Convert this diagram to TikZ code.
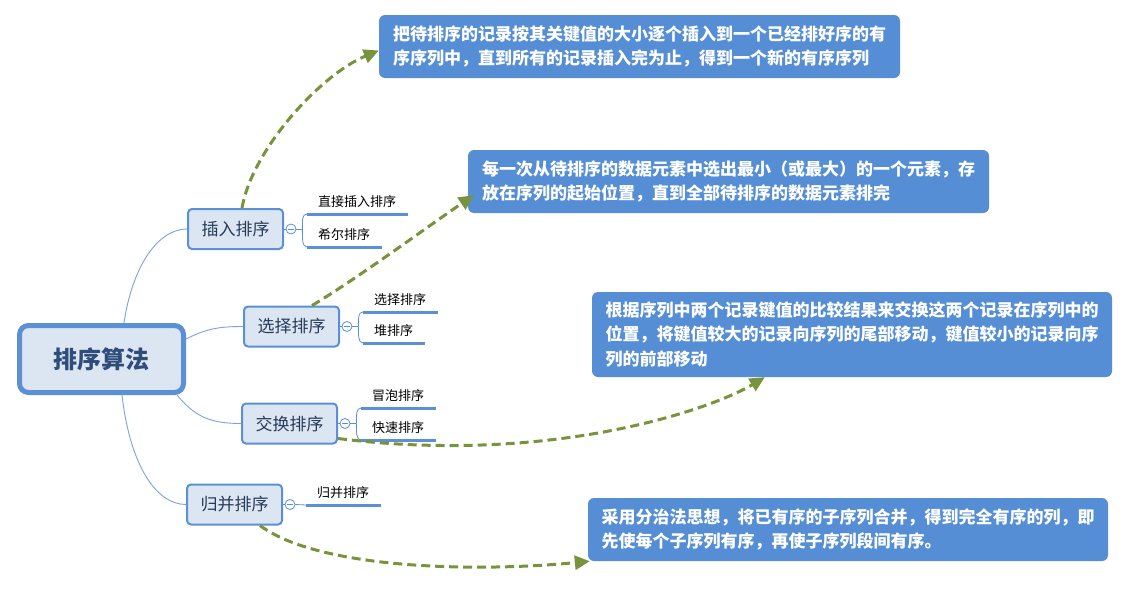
\documentclass[tikz,border=0pt]{standalone}
\usepackage{fontspec}
\setmainfont{Noto Sans CJK SC}
\usetikzlibrary{arrows.meta}
\definecolor{calloutblue}{HTML}{558ED5}
\definecolor{boxfill}{HTML}{DCE6F2}
\definecolor{boxline}{HTML}{5B8FD6}
\definecolor{linkblue}{HTML}{7AA3DC}
\definecolor{arrowgreen}{HTML}{77933C}
\definecolor{roottext}{HTML}{2F4D7A}
\definecolor{branchtext}{HTML}{263A58}
\begin{document}
\begin{tikzpicture}[x=1pt,y=-1pt,
  rootbox/.style={draw=boxline, line width=5pt, fill=boxfill, rounded corners=9pt, minimum width=164pt, minimum height=67pt, inner sep=0pt, text=roottext, font=\bfseries\fontsize{24}{24}\selectfont},
  branchbox/.style={draw=boxline, line width=2pt, fill=boxfill, rounded corners=4pt, minimum width=95pt, minimum height=40pt, inner sep=0pt, text=branchtext, font=\fontsize{17}{17}\selectfont},
  toggle/.style={circle, draw=boxline, line width=0.8pt, fill=white, minimum size=10pt, inner sep=0pt, path picture={\draw[boxline, line width=0.8pt] ([xshift=2pt]path picture bounding box.west) -- ([xshift=-2pt]path picture bounding box.east);}},
  leaf/.style={anchor=south west, inner xsep=11pt, inner ysep=4pt, text height=10pt, text depth=3pt, align=left, text width=#1, font=\fontsize{13}{13}\selectfont},
  uline/.style={draw=boxline, line width=3pt},
  thinlink/.style={draw=linkblue, line width=0.9pt},
  bracket/.style={draw=boxline, line width=0.8pt},
  callout/.style={fill=calloutblue, rounded corners=6pt, text=white, align=left, inner sep=0pt, font=\bfseries\fontsize{17}{24.5}\selectfont},
  hint/.style={draw=arrowgreen, line width=3pt, dash pattern=on 9pt off 5pt, -{Triangle[length=15pt,width=14pt]}},
]
\useasboundingbox (0,0) rectangle (1128,608);

% callouts
\node[callout, minimum width=521pt, minimum height=63pt] (c1) at (639.5,46.5) {把待排序的记录按其关键值的大小逐个插入到一个已经排好序的有\\序序列中，直到所有的记录插入完为止，得到一个新的有序序列};
\node[callout, minimum width=521pt, minimum height=63pt] (c2) at (728.5,181.5) {每一次从待排序的数据元素中选出最小（或最大）的一个元素，存\\放在序列的起始位置，直到全部待排序的数据元素排完};
\node[callout, minimum width=520pt, minimum height=85pt] (c3) at (852,334.5) {根据序列中两个记录键值的比较结果来交换这两个记录在序列中的\\位置，将键值较大的记录向序列的尾部移动，键值较小的记录向序\\列的前部移动};
\node[callout, minimum width=520pt, minimum height=63pt] (c4) at (848,529.5) {采用分治法思想，将已有序的子序列合并，得到完全有序的列，即\\先使每个子序列有序，再使子序列段间有序。};

% root and branches
\node[rootbox] (root) at (101.5,359) {排序算法};
\node[branchbox] (b1) at (235.5,229) {插入排序};
\node[branchbox] (b2) at (291.5,326.5) {选择排序};
\node[branchbox] (b3) at (289.5,423.5) {交换排序};
\node[branchbox] (b4) at (234.5,504.5) {归并排序};

\draw[thinlink] ([xshift=22.5pt]root.north) .. controls +(8,-55) and +(-30,0) .. (b1.west);
\draw[thinlink] ([yshift=20pt]root.east) .. controls +(20,-10) and +(-25,0) .. (b2.west);
\draw[thinlink] ([xshift=-9pt]root.south east) .. controls +(18,22) and +(-30,0) .. (b3.west);
\draw[thinlink] ([xshift=20.5pt]root.south) .. controls +(8,70) and +(-30,0) .. (b4.west);

% toggles
\node[toggle] (t1) at (291,229) {};
\node[toggle] (t2) at (347,326.5) {};
\node[toggle] (t3) at (345,423.5) {};
\node[toggle] (t4) at (290,504.5) {};
\draw[bracket] (b1.east) -- (t1.west);
\draw[bracket] (b2.east) -- (t2.west);
\draw[bracket] (b3.east) -- (t3.west);
\draw[bracket] (b4.east) -- (t4.west);

% leaves
\node[leaf=79pt] (l11) at (307,214) {直接插入排序};
\node[leaf=53pt] (l12) at (307,247) {希尔排序};
\node[leaf=53pt] (l21) at (363,312) {选择排序};
\node[leaf=40pt] (l22) at (363,343) {堆排序};
\node[leaf=53pt] (l31) at (361,408) {冒泡排序};
\node[leaf=53pt] (l32) at (361,440) {快速排序};
\node[leaf=53pt] (l41) at (306,505) {归并排序};
\foreach \l in {l11,l12,l21,l22,l31,l32,l41}
  \draw[uline] (\l.south west) -- (\l.south east);

\draw[bracket] (t1.east) -- ++(6,0) coordinate (k1);
\draw[bracket] (k1) .. controls +(0,-9) and +(-5,0) .. (l11.south west);
\draw[bracket] (k1) .. controls +(0,9) and +(-5,0) .. (l12.south west);
\draw[bracket] (t2.east) -- ++(6,0) coordinate (k2);
\draw[bracket] (k2) .. controls +(0,-8) and +(-5,0) .. (l21.south west);
\draw[bracket] (k2) .. controls +(0,8) and +(-5,0) .. (l22.south west);
\draw[bracket] (t3.east) -- ++(6,0) coordinate (k3);
\draw[bracket] (k3) .. controls +(0,-8) and +(-5,0) .. (l31.south west);
\draw[bracket] (k3) .. controls +(0,8) and +(-5,0) .. (l32.south west);
\draw[bracket] (t4.east) -- (l41.south west);

% green dashed arrows
\draw[hint] ([xshift=6.5pt]b1.north) .. controls (252,150) and (320,75) .. ([yshift=-4pt]c1.west);
\draw[hint] ([xshift=20.5pt]b2.north) .. controls (355,280) and (430,225) .. ([xshift=6pt,yshift=18pt]c2.south west);
\draw[hint] ([yshift=6pt]b3.south east) .. controls (550,465) and (710,410) .. ([xshift=173pt]c3.south west);
\draw[hint] ([xshift=25.5pt]b4.south) .. controls (320,570) and (480,572) .. ([xshift=2pt]c4.south west);
\end{tikzpicture}
\end{document}
